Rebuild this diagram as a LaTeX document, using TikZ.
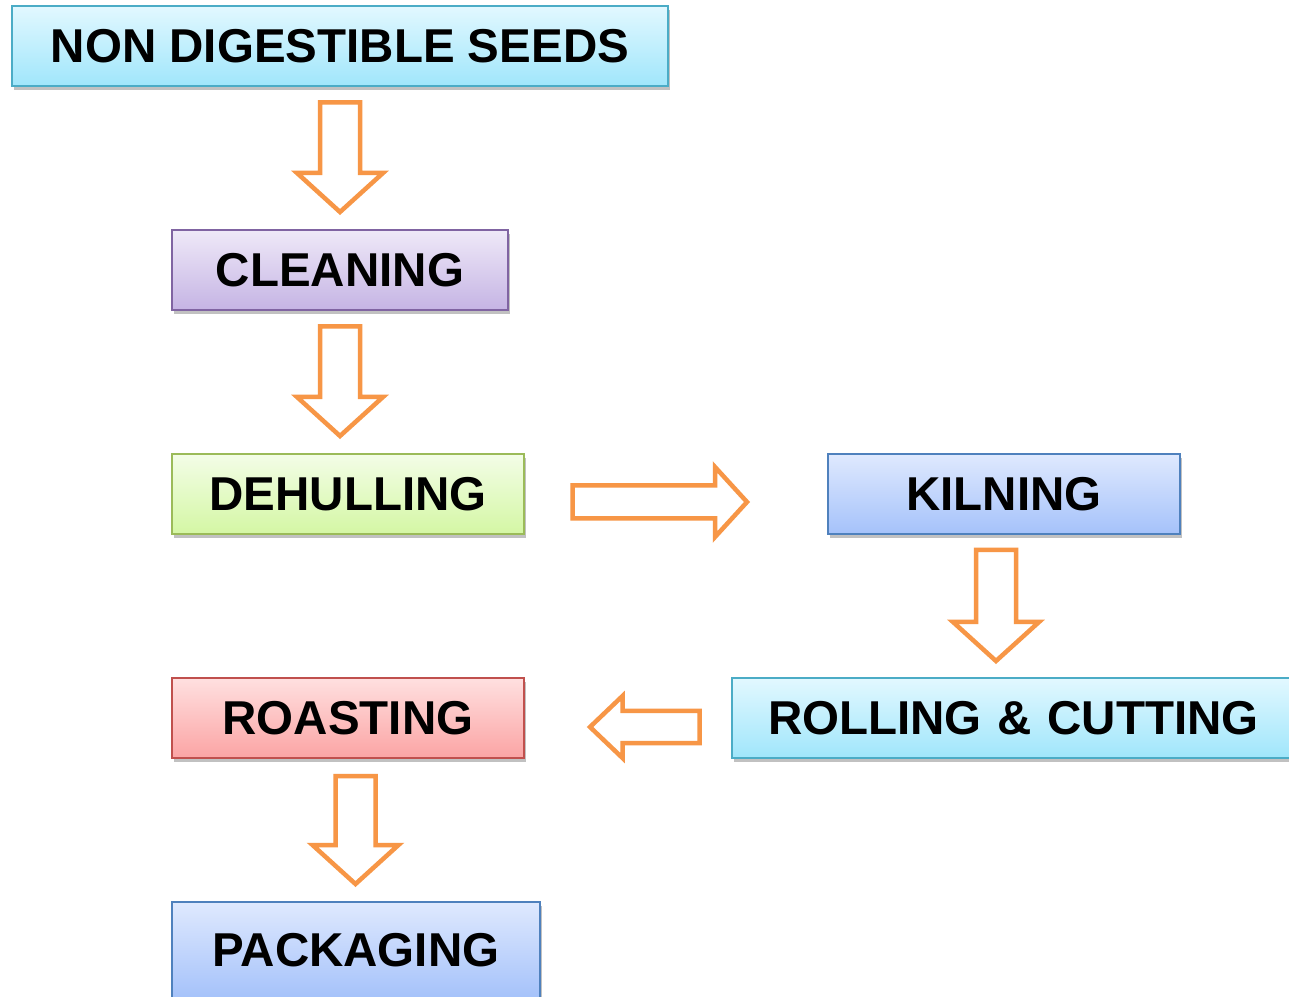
\documentclass[tikz,border=0pt]{standalone}
\usepackage{fontspec}
\setmainfont{Liberation Sans}
\usetikzlibrary{calc,shadows}
\definecolor{cyanT}{HTML}{E2F8FF}
\definecolor{cyanB}{HTML}{A0E6FB}
\definecolor{cyanL}{HTML}{4BACC6}
\definecolor{purT}{HTML}{EFE9F8}
\definecolor{purB}{HTML}{C5B4E4}
\definecolor{purL}{HTML}{8064A2}
\definecolor{grnT}{HTML}{F3FDE7}
\definecolor{grnB}{HTML}{D4F7A4}
\definecolor{grnL}{HTML}{9BBB59}
\definecolor{bluT}{HTML}{DFE9FE}
\definecolor{bluB}{HTML}{A5C2FA}
\definecolor{bluL}{HTML}{4F81BD}
\definecolor{redT}{HTML}{FFE0E0}
\definecolor{redB}{HTML}{FBA4A4}
\definecolor{redL}{HTML}{C0504D}
\definecolor{arr}{HTML}{F79646}
\tikzset{
  stepbox/.style={draw, line width=2pt, minimum height=80pt, inner sep=0pt,
    font=\fontsize{47.5}{50}\selectfont\bfseries,
    drop shadow={shadow xshift=2pt, shadow yshift=-4pt, opacity=0.4, fill=black!60}},
  cyanbox/.style={stepbox, draw=cyanL, top color=cyanT, bottom color=cyanB},
  purbox/.style={stepbox, draw=purL, top color=purT, bottom color=purB},
  grnbox/.style={stepbox, draw=grnL, top color=grnT, bottom color=grnB},
  blubox/.style={stepbox, draw=bluL, top color=bluT, bottom color=bluB},
  redbox/.style={stepbox, draw=redL, top color=redT, bottom color=redB},
  barrow/.style={draw=arr, line width=4.5pt, miter limit=10, fill=white},
}
% vertical block arrow: #1 start (top centre), #2 tip
\newcommand\vblockarrow[2]{%
  \draw[barrow] let \p1=#1, \p2=#2 in
    (\x1-20pt,\y1) -- (\x1+20pt,\y1) -- (\x1+20pt,\y2+39pt) -- (\x1+43pt,\y2+39pt)
    -- (\x1,\y2) -- (\x1-43pt,\y2+39pt) -- (\x1-20pt,\y2+39pt) -- cycle;}
% horizontal block arrow: #1 start (tail centre), #2 tip, #3 shaft half, #4 head half, #5 head length (signed)
\newcommand\hblockarrow[5]{%
  \draw[barrow] let \p1=#1, \p2=#2 in
    (\x1,\y1+#3) -- (\x2-#5,\y1+#3) -- (\x2-#5,\y1+#4) -- (\x2,\y1)
    -- (\x2-#5,\y1-#4) -- (\x2-#5,\y1-#3) -- (\x1,\y1-#3) -- cycle;}
\begin{document}
\begin{tikzpicture}[x=1pt,y=1pt]
\clip (0,0) rectangle (1289,996);
\fill[white] (0,0) rectangle (1289,996);
\node[cyanbox, minimum width=656pt] (nds) at (340,950) {NON DIGESTIBLE SEEDS};
\node[purbox, minimum width=336pt] (cln) at (340,726) {CLEANING};
\node[grnbox, minimum width=352pt] (deh) at (348,502) {DEHULLING};
\node[blubox, minimum width=352pt] (kil) at (1004,502) {KILNING};
\node[cyanbox, minimum width=580pt, text width=508pt, align=left] (rol) at (1022,278) {ROLLING \& CUTTING};
\node[redbox, minimum width=352pt] (roa) at (348,278) {ROASTING};
\node[blubox, minimum width=368pt, minimum height=96pt] (pak) at (356,46) {\raisebox{-4pt}{PACKAGING}};
% arrow anchor coordinates
\coordinate (a1s) at ($(nds.south)+(0,-15.5)$);
\coordinate (a1t) at ($(cln.north)+(0,17)$);
\coordinate (a2s) at ($(cln.south)+(0,-15.5)$);
\coordinate (a2t) at ($(deh.north)+(-8,17)$);
\coordinate (a3s) at ($(deh.east)+(47.5,-8)$);
\coordinate (a3t) at ($(kil.west)+(-80,-8)$);
\coordinate (a4s) at ($(kil.south)+(-8,-15)$);
\coordinate (a4t) at ($(rol.north)+(-26,16)$);
\coordinate (a5s) at ($(rol.west)+(-31.5,-9)$);
\coordinate (a5t) at ($(roa.east)+(65,-9)$);
\coordinate (a6s) at ($(roa.south)+(7.5,-17)$);
\coordinate (a6t) at ($(pak.north)+(0,17)$);
\vblockarrow{(a1s)}{(a1t)}
\vblockarrow{(a2s)}{(a2t)}
\hblockarrow{(a3s)}{(a3t)}{16.5pt}{35pt}{32pt}
\vblockarrow{(a4s)}{(a4t)}
\hblockarrow{(a5s)}{(a5t)}{16pt}{31pt}{-32.5pt}
\vblockarrow{(a6s)}{(a6t)}
\end{tikzpicture}
\end{document}
